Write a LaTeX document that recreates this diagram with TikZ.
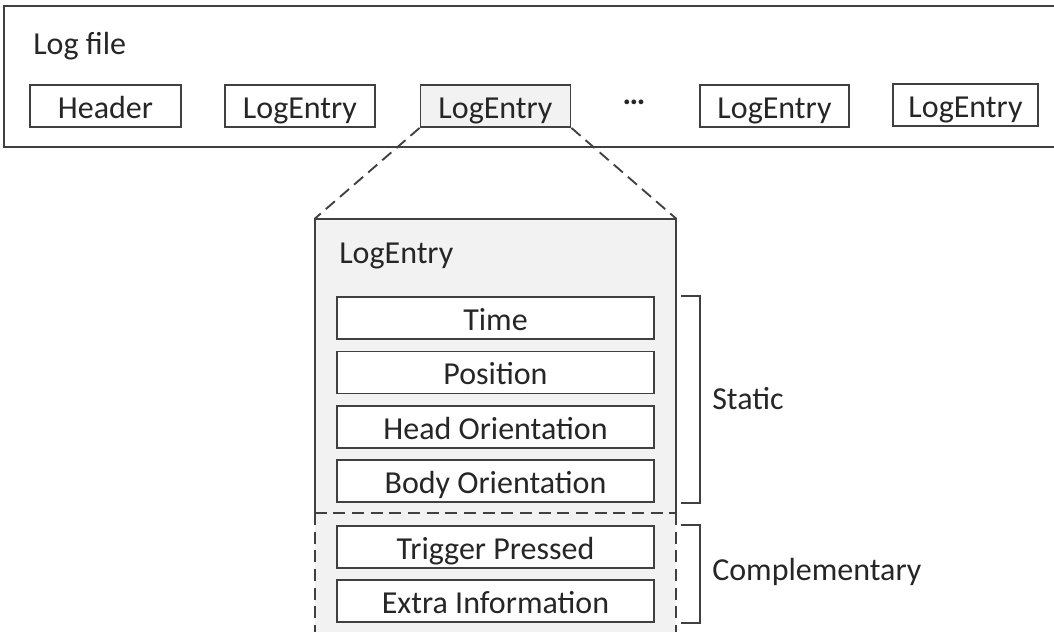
\documentclass[tikz,border=0pt]{standalone}
\usepackage{fontspec}
\setmainfont{Carlito}
\usetikzlibrary{calc}
\definecolor{ink}{HTML}{262626}
\definecolor{frame}{HTML}{404040}
\definecolor{shade}{HTML}{F2F2F2}
\begin{document}
\begin{tikzpicture}[x=0.75pt,y=-0.75pt,
  font=\fontsize{24}{28}\selectfont,
  every node/.style={text=ink},
  edge/.style={draw=frame, line width=1.4pt},
  dashedge/.style={edge, dash pattern=on 9pt off 5pt},
  field/.style={edge, fill=white, minimum height=31.5pt, inner sep=0pt,
    text height=20pt, text depth=2pt},
  shadedfield/.style={field, fill=shade},
  wide/.style={minimum width={#1*0.75pt}},
  label/.style={anchor=west, inner sep=0pt, text height=14pt, text depth=2pt}]
\useasboundingbox (0,0) rectangle (1054,632);
\clip (0,0) rectangle (1054,632);

% the log file strip (open on the right)
\coordinate (fileR1) at (1070,6);
\coordinate (fileR2) at (1070,147);
\draw[edge] (fileR1) -- (4,6) -- (4,147) -- (fileR2);
\node[label] (title) at (33,46) {Log file};

\node[field, wide=151] (header) at (105.5,106) {Header};
\node[field, wide=150] (le1) at (300,106) {LogEntry};
\node[shadedfield, wide=150] (le2) at (495.5,106) {LogEntry};
\node (dots) at (634,102) {\textbf{…}};
\node[field, wide=149] (le3) at (774.5,106) {LogEntry};
\node[field, wide=145] (le4) at (965.5,105) {LogEntry};

% expanded log entry
\node[fill=shade, minimum width={361*0.75pt}, minimum height={441*0.75pt}, inner sep=0pt]
  (entry) at (495.5,439.5) {};
\coordinate (split) at (0,513);
\draw[edge] (entry.south west |- split) -- (entry.north west) -- (entry.north east) -- (entry.south east |- split);
\draw[dashedge] (entry.south west |- split) -- (entry.south west);
\draw[dashedge] (entry.south east |- split) -- (entry.south east);
\draw[dashedge] (entry.west |- split) -- (entry.east |- split);

\draw[dashedge] (le2.south west) -- (entry.north west);
\draw[dashedge] (le2.south east) -- (entry.north east);

\node[label] (entrytitle) at (339,255) {LogEntry};

\node[field, wide=317] (time) at (495.5,318) {Time};
\node[field, wide=317] (pos) at (495.5,372.5) {Position};
\node[field, wide=317] (head) at (495.5,427) {Head Orientation};
\node[field, wide=317] (body) at (495.5,481) {Body Orientation};
\node[field, wide=317] (trig) at (495.5,547) {Trigger Pressed};
\node[field, wide=317] (extra) at (495.5,601) {Extra Information};

% group brackets
\coordinate (bl) at (681,0);
\coordinate (br) at (700,0);
\draw[edge] (time.north -| bl) -- (time.north -| br) -- (body.south -| br) -- (body.south -| bl);
\draw[edge] (trig.north -| bl) -- (trig.north -| br) -- (extra.south -| br) -- (extra.south -| bl);
\node[label] (static) at (712,401) {Static};
\node[label] (compl) at (712,572) {Complementary};
\end{tikzpicture}
\end{document}
